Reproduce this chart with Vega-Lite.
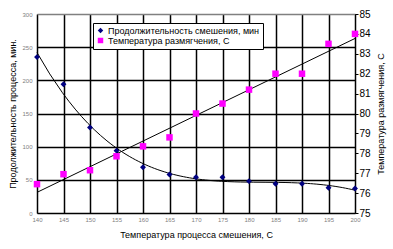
{
  "$schema": "https://vega.github.io/schema/vega-lite/v6.json",
  "autosize": {"type": "none"},
  "padding": {"left": 37, "top": 14, "right": 38, "bottom": 36},
  "width": 318,
  "height": 199,
  "background": "white",
  "config": {
    "font": "Liberation Sans",
    "view": {"stroke": "#808080", "strokeWidth": 1},
    "legend": {
      "orient": "none",
      "legendX": 56,
      "legendY": 9,
      "fillColor": "white",
      "strokeColor": "black",
      "padding": 3,
      "labelFontSize": 9,
      "labelColor": "black",
      "rowPadding": 0,
      "symbolSize": 30,
      "labelOffset": 3,
      "symbolStrokeWidth": 0
    }
  },
  "datasets": {
    "pts": [
      {"x": 140, "s": "Продолжительность смешения, мин", "v": 235},
      {"x": 145, "s": "Продолжительность смешения, мин", "v": 194},
      {"x": 150, "s": "Продолжительность смешения, мин", "v": 129},
      {"x": 155, "s": "Продолжительность смешения, мин", "v": 94},
      {"x": 160, "s": "Продолжительность смешения, мин", "v": 69},
      {"x": 165, "s": "Продолжительность смешения, мин", "v": 58},
      {"x": 170, "s": "Продолжительность смешения, мин", "v": 54},
      {"x": 175, "s": "Продолжительность смешения, мин", "v": 54},
      {"x": 180, "s": "Продолжительность смешения, мин", "v": 48},
      {"x": 185, "s": "Продолжительность смешения, мин", "v": 44},
      {"x": 190, "s": "Продолжительность смешения, мин", "v": 44},
      {"x": 195, "s": "Продолжительность смешения, мин", "v": 38},
      {"x": 200, "s": "Продолжительность смешения, мин", "v": 37},
      {"x": 140, "s": "Температура размягчения, С", "v": 76.45},
      {"x": 145, "s": "Температура размягчения, С", "v": 76.95},
      {"x": 150, "s": "Температура размягчения, С", "v": 77.15},
      {"x": 155, "s": "Температура размягчения, С", "v": 77.85},
      {"x": 160, "s": "Температура размягчения, С", "v": 78.35},
      {"x": 165, "s": "Температура размягчения, С", "v": 78.8},
      {"x": 170, "s": "Температура размягчения, С", "v": 80.0},
      {"x": 175, "s": "Температура размягчения, С", "v": 80.5},
      {"x": 180, "s": "Температура размягчения, С", "v": 81.2},
      {"x": 185, "s": "Температура размягчения, С", "v": 82.0},
      {"x": 190, "s": "Температура размягчения, С", "v": 82.0},
      {"x": 195, "s": "Температура размягчения, С", "v": 83.5},
      {"x": 200, "s": "Температура размягчения, С", "v": 84.0}
    ]
  },
  "data": {"name": "pts"},
  "encoding": {
    "x": {
      "field": "x",
      "type": "quantitative",
      "scale": {"domain": [140, 200], "nice": false, "zero": false},
      "axis": {
        "values": [140, 145, 150, 155, 160, 165, 170, 175, 180, 185, 190, 195, 200],
        "grid": true,
        "gridColor": "black",
        "gridWidth": 1.5,
        "gridOpacity": 1,
        "domain": false,
        "ticks": false,
        "labelFlush": false,
        "labelFontSize": 6,
        "labelColor": "#808080",
        "labelPadding": 3,
        "title": "Температура процесса смешения, С",
        "titleFontSize": 9,
        "titleFontWeight": "normal",
        "titleColor": "black",
        "titlePadding": 8
      }
    }
  },
  "layer": [
    {
      "encoding": {
        "y": {
          "field": "v",
          "type": "quantitative",
          "scale": {"domain": [0, 300], "nice": false},
          "axis": {
            "orient": "left",
            "values": [0, 50, 100, 150, 200, 250, 300],
            "grid": true,
            "gridColor": {"condition": {"test": "datum.value === 300", "value": "#808080"}, "value": "black"},
            "gridWidth": 1.5,
            "gridOpacity": 1,
            "domain": false,
            "ticks": false,
            "labelFontSize": 6,
            "labelColor": "#808080",
            "labelPadding": 5,
            "title": "Продолжительность процесса, мин.",
            "titleFontSize": 9,
            "titleFontWeight": "normal",
            "titleColor": "black",
            "titlePadding": 4
          }
        }
      },
      "layer": [
        {
          "transform": [
            {"filter": "datum.s === 'Продолжительность смешения, мин'"},
            {"regression": "v", "on": "x", "method": "poly", "order": 4}
          ],
          "mark": {"type": "line", "color": "black", "strokeWidth": 1}
        },
        {
          "transform": [{"filter": "datum.s === 'Продолжительность смешения, мин'"}],
          "mark": {"type": "point", "filled": true, "size": 35, "opacity": 1},
          "encoding": {
            "color": {
              "field": "s", "type": "nominal",
              "scale": {"domain": ["Продолжительность смешения, мин", "Температура размягчения, С"], "range": ["#000080", "#FF00FF"]},
              "legend": {"title": null}
            },
            "shape": {
              "field": "s", "type": "nominal",
              "scale": {"domain": ["Продолжительность смешения, мин", "Температура размягчения, С"], "range": ["diamond", "square"]},
              "legend": {"title": null}
            }
          }
        }
      ]
    },
    {
      "encoding": {
        "y": {
          "field": "v",
          "type": "quantitative",
          "scale": {"domain": [75, 85], "nice": false, "zero": false},
          "axis": {
            "orient": "right",
            "values": [75, 76, 77, 78, 79, 80, 81, 82, 83, 84, 85],
            "grid": false,
            "domain": true,
            "domainColor": "black",
            "ticks": true,
            "tickColor": "black",
            "tickSize": 3,
            "labelFontSize": 10,
            "labelColor": "black",
            "labelPadding": 1,
            "title": "Температура размягчения, С",
            "titleAngle": 270,
            "titleFontSize": 9,
            "titleFontWeight": "normal",
            "titleColor": "black",
            "titlePadding": 15
          }
        }
      },
      "layer": [
        {
          "transform": [
            {"filter": "datum.s === 'Температура размягчения, С'"},
            {"regression": "v", "on": "x", "method": "linear"}
          ],
          "mark": {"type": "line", "color": "black", "strokeWidth": 1}
        },
        {
          "transform": [{"filter": "datum.s === 'Температура размягчения, С'"}],
          "mark": {"type": "point", "filled": true, "size": 42, "opacity": 1},
          "encoding": {
            "color": {
              "field": "s", "type": "nominal",
              "scale": {"domain": ["Продолжительность смешения, мин", "Температура размягчения, С"], "range": ["#000080", "#FF00FF"]},
              "legend": {"title": null}
            },
            "shape": {
              "field": "s", "type": "nominal",
              "scale": {"domain": ["Продолжительность смешения, мин", "Температура размягчения, С"], "range": ["diamond", "square"]},
              "legend": {"title": null}
            }
          }
        }
      ]
    }
  ],
  "resolve": {"scale": {"y": "independent"}}
}
